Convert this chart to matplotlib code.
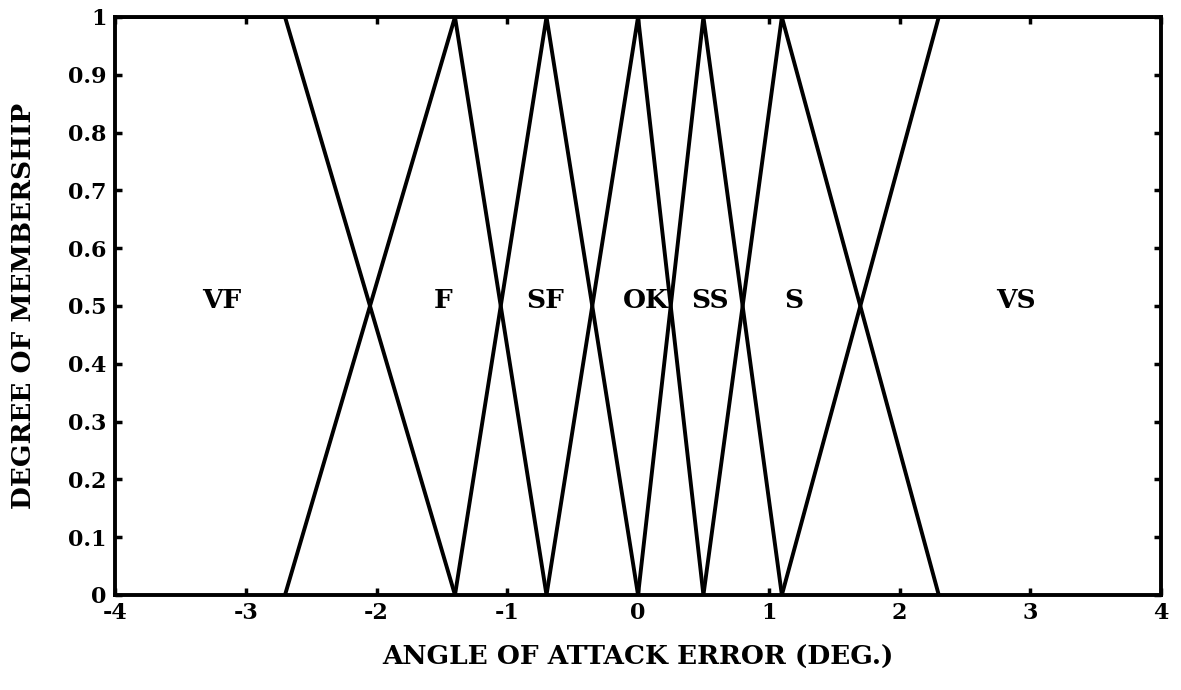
import matplotlib
matplotlib.use("Agg")
import matplotlib.pyplot as plt

# membership function break points (x, mu) for each fuzzy set
sets = ["VF", "F", "SF", "OK", "SS", "S", "VS"]
mf_x = [
    [-4.0, -2.7, -1.4],
    [-2.7, -1.4, -0.7],
    [-1.4, -0.7, 0.0],
    [-0.7, 0.0, 0.5],
    [0.0, 0.5, 1.1],
    [0.5, 1.1, 2.3],
    [1.1, 2.3, 4.0],
]
mf_y = [
    [1, 1, 0],
    [0, 1, 0],
    [0, 1, 0],
    [0, 1, 0],
    [0, 1, 0],
    [0, 1, 0],
    [0, 1, 1],
]
# where the set names are written
label_x = [-3.18, -1.49, -0.71, 0.06, 0.55, 1.19, 2.89]
label_y = 0.51

xticks = [-4, -3, -2, -1, 0, 1, 2, 3, 4]
yticks = [0, 0.1, 0.2, 0.3, 0.4, 0.5, 0.6, 0.7, 0.8, 0.9, 1]
ytick_labels = ["0", "0.1", "0.2", "0.3", "0.4", "0.5", "0.6", "0.7", "0.8", "0.9", "1"]

plt.rcParams['font.family'] = ['DejaVu Serif']
plt.rcParams['font.weight'] = 'bold'

fig = plt.figure(figsize=(11.81, 6.90), dpi=100)
ax = fig.add_axes([0.0974, 0.1377, 0.8857, 0.8377])

for xs, ys in zip(mf_x, mf_y):
    ax.plot(xs, ys, color='black', lw=2.8, solid_joinstyle='miter')

for name, lx in zip(sets, label_x):
    ax.text(lx, label_y, name, ha='center', va='center', fontsize=19, fontweight='bold')

ax.set_xlim(-4, 4)
ax.set_ylim(0, 1)
ax.set_xticks(xticks)
ax.set_xticklabels([str(t) for t in xticks])
ax.set_yticks(yticks)
ax.set_yticklabels(ytick_labels)
ax.tick_params(direction='in', length=5, width=2.5, top=True, right=True,
               labelsize=16)
ax.tick_params(axis='x', pad=5)
ax.tick_params(axis='y', pad=6)
for s in ax.spines.values():
    s.set_linewidth(2.8)

ax.set_xlabel("ANGLE OF ATTACK ERROR (DEG.)", fontsize=19, fontweight='bold', labelpad=15)
ax.set_ylabel("DEGREE OF MEMBERSHIP", fontsize=19, fontweight='bold', labelpad=23)

fig.savefig("out.png", dpi=100)
